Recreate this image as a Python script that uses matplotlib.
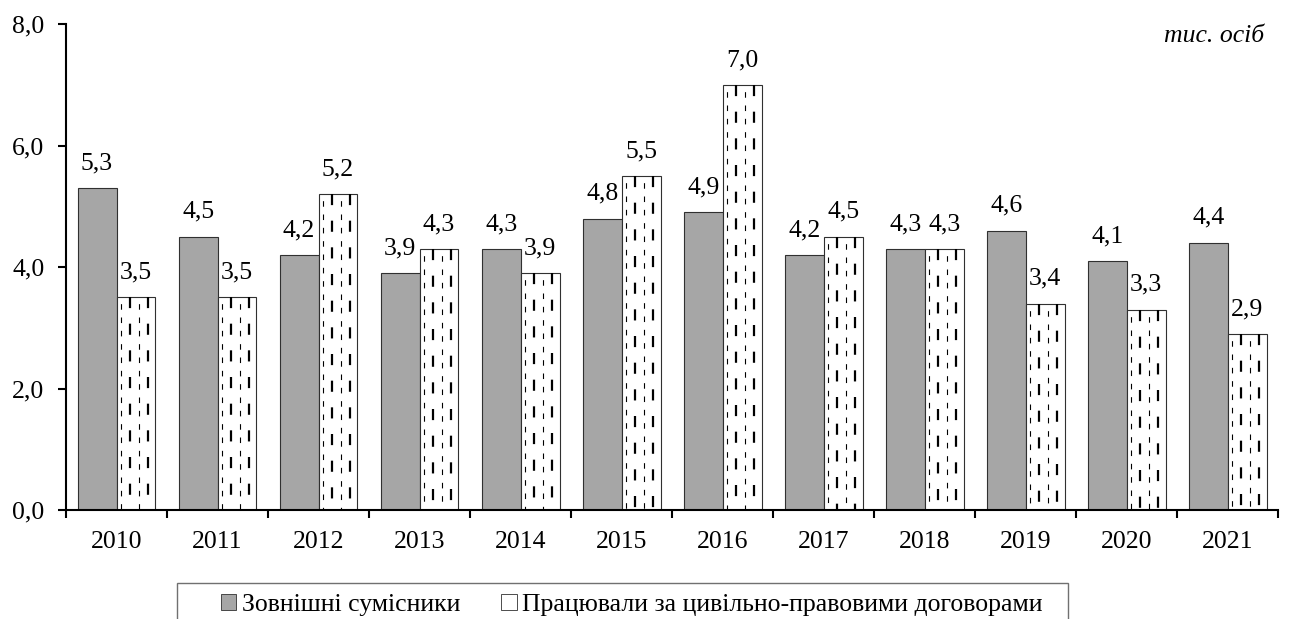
import numpy as np
import matplotlib.pyplot as plt
from matplotlib.patches import Patch, Rectangle

plt.rcParams['font.family'] = ['Liberation Serif', 'DejaVu Serif']
FS = 18.5

# Data
years = ['2010', '2011', '2012', '2013', '2014', '2015',
         '2016', '2017', '2018', '2019', '2020', '2021']
external = [5.3, 4.5, 4.2, 3.9, 4.3, 4.8, 4.9, 4.2, 4.3, 4.6, 4.1, 4.4]
contracts = [3.5, 3.5, 5.2, 4.3, 3.9, 5.5, 7.0, 4.5, 4.3, 3.4, 3.3, 2.9]

fig = plt.figure(figsize=(12.89, 6.19), dpi=100)
ax = fig.add_axes([0.0512, 0.176, 0.9405, 0.785])

x = np.arange(len(years))
w = 0.385
bars1 = ax.bar(x - w / 2, external, w, color='#a6a6a6', edgecolor='#303030', linewidth=0.8)
bars2 = ax.bar(x + w / 2, contracts, w, color='white', edgecolor='#303030', linewidth=0.8)

# dashed vertical fill pattern inside the second series
for b in bars2:
    x0, bw, h = b.get_x(), b.get_width(), b.get_height()
    for i, frac in enumerate([0.12, 0.35, 0.58, 0.81]):
        thick = i % 2 == 1
        ax.plot([x0 + frac * bw] * 2, [h, 0], color='black',
                lw=1.6 if thick else 0.8,
                linestyle=(0 if thick else 6, (5, 7)),
                dash_capstyle='butt')

# value labels
for b, v in zip(list(bars1) + list(bars2), external + contracts):
    ax.annotate(f'{v:.1f}'.replace('.', ','), (b.get_x() + b.get_width() / 2, v),
                xytext=(0, 10), textcoords='offset points', ha='center', va='bottom',
                fontsize=FS)

ax.set_xlim(-0.5, len(years) - 0.5)
ax.set_ylim(0, 8)
ax.set_yticks([0, 2, 4, 6, 8])
ax.set_yticklabels(['0,0', '2,0', '4,0', '6,0', '8,0'], fontsize=FS)
ax.set_xticks(x)
ax.set_xticklabels(years, fontsize=FS)
ax.set_xticks(np.arange(-0.5, len(years), 1), minor=True)
ax.tick_params(axis='x', which='major', length=0, pad=15)
ax.tick_params(axis='x', which='minor', length=5.5, width=1.5, direction='out')
ax.tick_params(axis='y', length=5.5, width=1.5, direction='out', pad=10)
for s in ['top', 'right']:
    ax.spines[s].set_visible(False)
for s in ['left', 'bottom']:
    ax.spines[s].set_linewidth(1.5)

fig.text(0.981, 0.942, 'тис. осіб', ha='right', va='center', fontsize=FS, style='italic')

# legend with its own frame (bottom edge runs off the figure)
fig.add_artist(Rectangle((177 / 1289, -0.1), 891 / 1289, 0.1 + 1 - 583 / 619,
                         transform=fig.transFigure, facecolor='none',
                         edgecolor='#707070', linewidth=1.0))
handles = [Patch(facecolor='#a6a6a6', edgecolor='#303030', linewidth=0.6),
           Patch(facecolor='white', edgecolor='#303030', linewidth=0.6)]
fig.legend(handles, ['Зовнішні сумісники', 'Працювали за цивільно-правовими договорами'],
           loc='center', bbox_to_anchor=(0.49, 1 - 605 / 619), ncol=2, fontsize=FS,
           frameon=False, handlelength=0.6, handleheight=0.6,
           handletextpad=0.2, columnspacing=1.6, borderpad=0, borderaxespad=0)

fig.savefig('out.png', dpi=100)
